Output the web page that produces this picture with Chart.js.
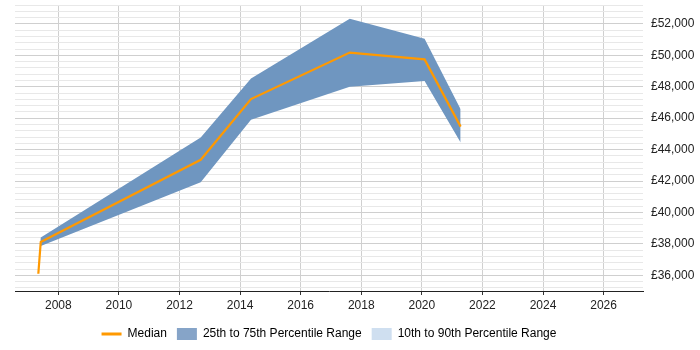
<!DOCTYPE html>
<html>
<head>
<meta charset="utf-8">
<script src="https://cdn.jsdelivr.net/npm/chart.js@4/dist/chart.umd.min.js"></script>
<style>
html,body{margin:0;padding:0;background:#fff;}
#wrap{width:700px;height:350px;}
</style>
</head>
<body>
<div id="wrap"><canvas id="c" width="700" height="350"></canvas></div>
<script>
// Data
const years  = [2007.34, 2007.42, 2012.70, 2014.36, 2017.62, 2020.09, 2021.28];
const median = [36100, 38120, 43350, 47210, 50170, 49740, 45460];
const p75    = [36100, 38400, 44770, 48520, 52320, 51050, 46560];
const p25    = [36100, 37870, 41920, 45890, 47990, 48370, 44450];
const xTickYears = [2008, 2010, 2012, 2014, 2016, 2018, 2020, 2022, 2024, 2026];
const yMajorStep = 2000;
const yMinorStep = 400;

const pts = arr => years.map((x, i) => ({x: x, y: arr[i]}));

const bandColor = '#6f96c0';
const orange = '#ff9900';

const yTicks = [];
for (let v = 35200; v <= 53200; v += yMinorStep) yTicks.push(v);

const legendShift = {
  id: 'legendShift',
  afterUpdate(chart) {
    const lg = chart.legend;
    if (!lg) return;
    const ca = chart.chartArea;
    const target = (ca.left + ca.right) / 2;
    const cur = (lg.left + lg.right) / 2;
    const d = target - cur;
    lg.left += d; lg.right += d;
  }
};

new Chart(document.getElementById('c'), {
  type: 'line',
  data: {
    datasets: [
      {label: 'Median', data: pts(median), borderColor: orange, backgroundColor: orange,
       borderWidth: 2.2, pointRadius: 0, fill: false, tension: 0, order: 0},
      {label: '25th to 75th Percentile Range', data: pts(p75), borderColor: bandColor,
       backgroundColor: bandColor, borderWidth: 0, pointRadius: 0, fill: '+1', tension: 0, order: 1},
      {label: 'p25', data: pts(p25), borderColor: bandColor, backgroundColor: bandColor,
       borderWidth: 0, pointRadius: 0, fill: false, tension: 0, order: 1},
      {label: '10th to 90th Percentile Range', data: [], borderColor: '#cfdff0',
       backgroundColor: '#cfdff0', borderWidth: 0, pointRadius: 0, fill: false, order: 2}
    ]
  },
  plugins: [legendShift],
  options: {
    responsive: false,
    animation: false,
    layout: {padding: {left: 15, top: 5, right: 0, bottom: 0}},
    plugins: {
      tooltip: {enabled: false},
      legend: {
        position: 'bottom',
        labels: {
          font: {family: 'Liberation Sans, Arial, sans-serif', size: 12},
          color: '#222',
          usePointStyle: true,
          pointStyleWidth: 20,
          boxHeight: 12,
          padding: 10,
          generateLabels: () => [
            {text: 'Median', fillStyle: orange, strokeStyle: orange, lineWidth: 3, pointStyle: 'line', datasetIndex: 0},
            {text: '25th to 75th Percentile Range', fillStyle: '#86a4c8', strokeStyle: '#86a4c8', lineWidth: 0, pointStyle: 'rect', datasetIndex: 1},
            {text: '10th to 90th Percentile Range', fillStyle: '#cfdff0', strokeStyle: '#cfdff0', lineWidth: 0, pointStyle: 'rect', datasetIndex: 3}
          ]
        }
      }
    },
    scales: {
      x: {
        type: 'linear',
        min: 2006.57,
        max: 2027.3,
        afterBuildTicks: s => { s.ticks = xTickYears.map(v => ({value: v})); },
        afterFit: s => { s.height = 27; s.paddingLeft = 0; s.paddingRight = 0; },
        ticks: {
          callback: v => String(v),
          font: {family: 'Liberation Sans, Arial, sans-serif', size: 12},
          color: '#222',
          padding: 3,
          maxRotation: 0,
          autoSkip: false
        },
        grid: {color: '#d0d0d0', tickLength: 4, tickColor: '#333', drawTicks: true},
        border: {display: true, color: '#222', width: 1}
      },
      y: {
        type: 'linear',
        position: 'right',
        min: 35000,
        max: 53200,
        afterBuildTicks: s => { s.ticks = yTicks.map(v => ({value: v})); },
        afterFit: s => { s.width = 57; s.paddingTop = 0; s.paddingBottom = 0; },
        ticks: {
          callback: v => (v % yMajorStep === 0 ? '£' + v.toLocaleString('en-GB') : ''),
          font: {family: 'Liberation Sans, Arial, sans-serif', size: 12},
          color: '#222',
          padding: 8,
          autoSkip: false
        },
        grid: {
          drawTicks: false,
          color: c => (c.tick && c.tick.value % yMajorStep === 0 ? '#cfcfcf' : '#e8e8e8')
        },
        border: {display: false}
      }
    }
  }
});
</script>
</body>
</html>
